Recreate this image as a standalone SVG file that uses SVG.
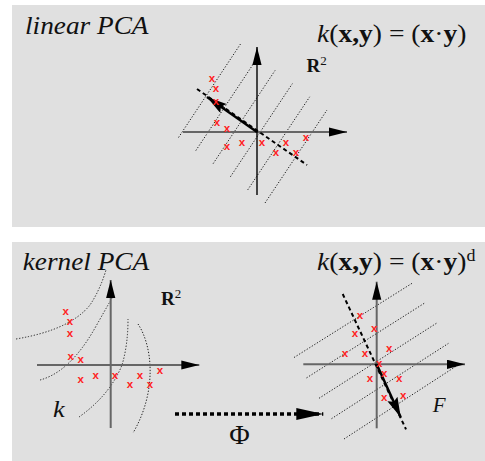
<svg xmlns="http://www.w3.org/2000/svg" width="485" height="461" viewBox="0 0 485 461">
<style>
.bg{fill:#e0e0e0}
.t{font-family:"Liberation Serif","Times New Roman",serif;fill:#111}
.it{font-style:italic}
.b{font-weight:bold}
.dot{stroke:#222;stroke-width:1;stroke-dasharray:1.3 1.7;fill:none}
.pc{stroke:#000;stroke-width:2;stroke-dasharray:4 3;fill:none}
.ax{stroke:#666;stroke-width:2;fill:none}
.axk{stroke:#000;stroke-width:1.4;fill:none}
.m{font-family:"Liberation Sans",Arial,sans-serif;font-weight:bold;font-size:11.5px;fill:#f22;text-anchor:middle}
.cv{stroke:#222;stroke-width:1;stroke-dasharray:1.3 1.7;fill:none}
</style>
<defs>
<marker id="ah" markerUnits="userSpaceOnUse" markerWidth="19" markerHeight="10" refX="18" refY="4.6" orient="auto"><path d="M0,0 L18,4.6 L0,9.2 z" fill="#000"/></marker>
<marker id="ap" markerUnits="userSpaceOnUse" markerWidth="21" markerHeight="12" refX="20" refY="5.5" orient="auto"><path d="M0,0 L20,5.5 L0,11 L3,5.5 z" fill="#000"/></marker>
<marker id="af" markerUnits="userSpaceOnUse" markerWidth="28" markerHeight="13" refX="27" refY="6" orient="auto"><path d="M0,0 L27,6 L0,12 z" fill="#000"/></marker>
</defs>

<rect class="bg" x="12" y="5" width="473" height="222"/>
<rect class="bg" x="12" y="242" width="473" height="219"/>

<!-- top panel -->
<g id="linear-pca">
  <text class="t it" font-size="26" transform="translate(25,33.5) scale(1.05,1)">linear PCA</text>
  <text class="t" font-size="26" transform="translate(317,42) scale(1.06,1)"><tspan class="it">k</tspan>(<tspan class="b">x,y</tspan>) = (<tspan class="b">x</tspan>·<tspan class="b">y</tspan>)</text>
  <text class="t b" font-size="19" x="306.5" y="72">R<tspan font-weight="normal" font-size="13" dy="-7">2</tspan></text>
  <g id="linear-contours">
    <line class="dot" x1="178.5" y1="137.5" x2="240.5" y2="44"/>
    <line class="dot" x1="195.8" y1="150.6" x2="257.8" y2="57.2"/>
    <line class="dot" x1="213.1" y1="163.7" x2="275.1" y2="70.4"/>
    <line class="dot" x1="230.4" y1="176.8" x2="292.4" y2="83.6"/>
    <line class="dot" x1="247.7" y1="189.9" x2="309.7" y2="96.8"/>
    <line class="dot" x1="265" y1="203" x2="327" y2="110"/>
  </g>
  <g id="linear-axes">
    <line class="ax" x1="183" y1="132" x2="347" y2="132" marker-end="url(#ah)"/>
    <line class="axk" x1="257" y1="195" x2="257" y2="47" marker-end="url(#ah)"/>
  </g>
  <line class="pc" x1="197" y1="89" x2="307" y2="165"/>
  <line stroke="#000" stroke-width="2.5" x1="257" y1="132" x2="207" y2="97" marker-end="url(#ap)"/>
  <g id="linear-data">
    <text class="m" x="212" y="82">x</text>
    <text class="m" x="216" y="92">x</text>
    <text class="m" x="216" y="105">x</text>
    <text class="m" x="217" y="126">x</text>
    <text class="m" x="227" y="132">x</text>
    <text class="m" x="227" y="150">x</text>
    <text class="m" x="242" y="146">x</text>
    <text class="m" x="262" y="146">x</text>
    <text class="m" x="276" y="156">x</text>
    <text class="m" x="286" y="146">x</text>
    <text class="m" x="296" y="156">x</text>
    <text class="m" x="306" y="141">x</text>
  </g>
</g>

<!-- bottom panel -->
<g id="kernel-pca-input">
  <text class="t it" font-size="26" transform="translate(22.7,270) scale(1.05,1)">kernel PCA</text>
  <text class="t b" font-size="19" x="161" y="305">R<tspan font-weight="normal" font-size="13" dy="-7">2</tspan></text>
  <text class="t it" font-size="24" transform="translate(53,416.7) scale(1.1,1)">k</text>
  <g id="kernel-contours">
    <path class="cv" d="M16,339 Q70,330 90,305 Q100,290 106,270"/>
    <path class="cv" d="M40,380 Q70,372 95,328 Q104,312 112,298"/>
    <path class="cv" d="M79,417 Q110,395 122,365 Q128,345 128,319"/>
    <path class="cv" d="M138,324 C152,345 158,390 133,433"/>
  </g>
  <g id="kernel-axes">
    <line class="ax" x1="37" y1="365" x2="199.3" y2="365" marker-end="url(#ah)"/>
    <line class="ax" x1="110.7" y1="428" x2="110.7" y2="280" marker-end="url(#ah)"/>
  </g>
  <g id="kernel-data">
    <text class="m" x="65.7" y="314.7">x</text>
    <text class="m" x="70" y="324.7">x</text>
    <text class="m" x="70" y="337.3">x</text>
    <text class="m" x="70.7" y="359.7">x</text>
    <text class="m" x="80.7" y="363">x</text>
    <text class="m" x="80.7" y="383">x</text>
    <text class="m" x="95.7" y="378.7">x</text>
    <text class="m" x="115" y="378.7">x</text>
    <text class="m" x="130" y="388">x</text>
    <text class="m" x="140" y="378.7">x</text>
    <text class="m" x="150" y="388">x</text>
    <text class="m" x="160" y="373.7">x</text>
  </g>
</g>

<g id="connectors">
  <line stroke="#000" stroke-width="3.5" stroke-dasharray="4 3" x1="175" y1="414" x2="323.3" y2="414" marker-end="url(#af)"/>
  <text class="t" font-size="28" text-anchor="middle" x="239.5" y="443.5">Φ</text>
</g>

<g id="feature-space">
  <text class="t" font-size="26" transform="translate(317,270) scale(1.06,1)"><tspan class="it">k</tspan>(<tspan class="b">x,y</tspan>) = (<tspan class="b">x</tspan>·<tspan class="b">y</tspan>)<tspan font-size="17" dy="-9">d</tspan></text>
  <text class="t it" font-size="20" transform="translate(432.7,411.7) scale(1.05,1)">F</text>
  <g id="feature-contours">
    <line class="dot" x1="294" y1="357.5" x2="413.3" y2="282.5"/>
    <line class="dot" x1="306.5" y1="377.9" x2="425" y2="302.8"/>
    <line class="dot" x1="319" y1="398.3" x2="436.7" y2="323.1"/>
    <line class="dot" x1="331.5" y1="418.7" x2="448.4" y2="343.4"/>
    <line class="dot" x1="344" y1="439" x2="460" y2="363.7"/>
  </g>
  <g id="feature-axes">
    <line class="ax" x1="303.3" y1="364.3" x2="465" y2="364.3" marker-end="url(#ah)"/>
    <line class="ax" x1="376.7" y1="428.3" x2="376.7" y2="281.7" marker-end="url(#ah)"/>
  </g>
  <line class="pc" x1="342.7" y1="294" x2="406" y2="429.3"/>
  <line stroke="#000" stroke-width="2.5" x1="376.7" y1="364.3" x2="400.7" y2="417.3" marker-end="url(#ap)"/>
  <g id="feature-data">
    <text class="m" x="360" y="318.7">x</text>
    <text class="m" x="374.3" y="332.3">x</text>
    <text class="m" x="355" y="337.3">x</text>
    <text class="m" x="345" y="357.3">x</text>
    <text class="m" x="365" y="357.3">x</text>
    <text class="m" x="389.3" y="352">x</text>
    <text class="m" x="379.3" y="367.3">x</text>
    <text class="m" x="384.3" y="377.3">x</text>
    <text class="m" x="370" y="382.3">x</text>
    <text class="m" x="399.3" y="382.3">x</text>
    <text class="m" x="384.3" y="400.7">x</text>
    <text class="m" x="403.3" y="398.7">x</text>
  </g>
</g>
</svg>
